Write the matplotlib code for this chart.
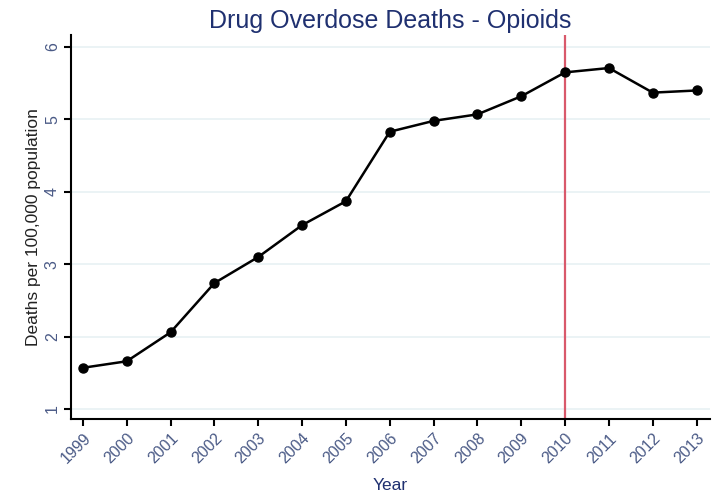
import matplotlib.pyplot as plt

years = [1999, 2000, 2001, 2002, 2003, 2004, 2005, 2006, 2007, 2008, 2009, 2010, 2011, 2012, 2013]
deaths = [1.57, 1.66, 2.06, 2.74, 3.10, 3.54, 3.87, 4.83, 4.98, 5.07, 5.32, 5.65, 5.71, 5.37, 5.40]
y_ticks = [1, 2, 3, 4, 5, 6]
cutoff_year = 2010

plt.rcParams["font.family"] = ["Liberation Sans", "DejaVu Sans"]

NAVY = "#1f3070"
TICK = "#4a5a86"

fig = plt.figure(figsize=(7.25, 4.93), dpi=100)
ax = fig.add_axes([0.098, 0.150, 0.881, 0.779])

for t in y_ticks:
    ax.axhline(t, color="#e8f1f3", linewidth=1.2, zorder=0)

ax.axvline(cutoff_year, color="#d9596b", linewidth=1.6, zorder=1)
ax.plot(years, deaths, color="black", linewidth=1.8, marker="o", markersize=6.5, zorder=3)

ax.set_xlim(1998.73, 2013.3)
ax.set_ylim(0.862, 6.166)
ax.set_xticks(years)
ax.set_xticklabels([str(y) for y in years], rotation=45, ha="right", rotation_mode="anchor",
                   fontsize=11.5, color=TICK)
ax.set_yticks(y_ticks)
ax.set_yticklabels([str(t) for t in y_ticks], rotation=90, va="center", fontsize=11.5, color=TICK)

for side in ("top", "right"):
    ax.spines[side].set_visible(False)
for side in ("left", "bottom"):
    ax.spines[side].set_linewidth(1.5)
ax.tick_params(direction="out", length=5, width=1.5)
ax.tick_params(axis="y", pad=3)

ax.set_xlabel("Year", fontsize=12.5, color=NAVY, labelpad=8)
ax.set_ylabel("Deaths per 100,000 population", fontsize=12.5, color="#222222", labelpad=3)
ax.set_title("Drug Overdose Deaths - Opioids", fontsize=18, color=NAVY, pad=5)

fig.savefig("out.png", dpi=100, facecolor="white")
